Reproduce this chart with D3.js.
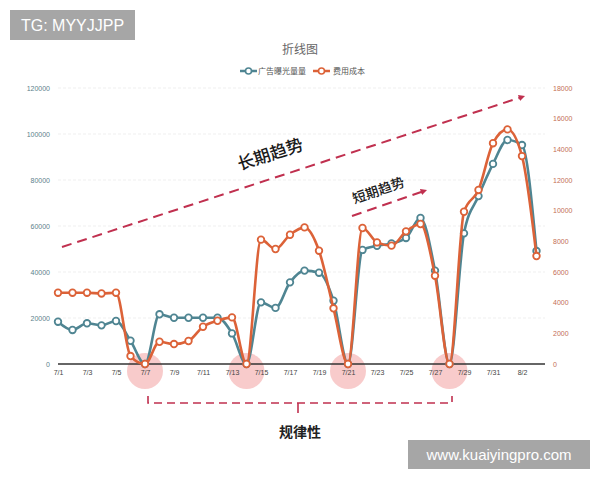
<!DOCTYPE html>
<html><head><meta charset="utf-8">
<script src="https://cdn.jsdelivr.net/npm/d3@7"></script>
<style>body{margin:0;background:#fff}svg{display:block}</style>
</head><body>
<svg id="c" width="600" height="480"></svg>
<script>
const dates = ["7/1","7/2","7/3","7/4","7/5","7/6","7/7","7/8","7/9","7/10","7/11","7/12","7/13","7/14","7/15","7/16","7/17","7/18","7/19","7/20","7/21","7/22","7/23","7/24","7/25","7/26","7/27","7/28","7/29","7/30","7/31","8/1","8/2","8/3"];
const exposure = [18400,14800,17700,16800,18700,10100,0, 21600,20100,20100,20100,20100,13300,0, 26800,24400,35500,40600,39700,27500,0, 49600,51400,52400,54800,63500,40600,0, 56800,73000,87000,97400,95200,49100];
const cost = [4650,4650,4650,4600,4650,520,0, 1450,1300,1500,2430,2820,3040,0, 8110,7500,8430,8910,7390,3630,0, 8870,7930,7720,8650,9130,5760,0, 9930,11350,14400,15300,13560,7040];
const leftTicks = [0,20000,40000,60000,80000,100000,120000];
const rightTicks = [0,2000,4000,6000,8000,10000,12000,14000,16000,18000];
const xTickLabels = ["7/1","7/3","7/5","7/7","7/9","7/11","7/13","7/15","7/17","7/19","7/21","7/23","7/25","7/27","7/29","7/31","8/2"];
const zeroDays = ["7/7","7/14","7/21","7/28"];
const seriesNames = ["广告曝光量量","费用成本"];

const blue = "#4f8592", orange = "#dc6238", crimson = "#c0304f";
const svg = d3.select("#c");
const x = d3.scalePoint().domain(dates).range([58, 536.5]);
const yL = d3.scaleLinear().domain([0,120000]).range([364, 88]);
const yR = d3.scaleLinear().domain([0,18000]).range([364, 88]);
const cjk = "'Noto Sans CJK SC','Noto Sans',sans-serif";
const lat = "'Liberation Sans',Arial,sans-serif";

// grid
svg.append("g").selectAll("line").data(leftTicks.slice(1)).join("line")
  .attr("x1",58).attr("x2",545).attr("y1",d=>yL(d)).attr("y2",d=>yL(d))
  .attr("stroke","#efefef").attr("stroke-dasharray","3,2").attr("stroke-width",1);

// left axis
const gl = svg.append("g").attr("transform","translate(52,0)")
  .call(d3.axisLeft(yL).tickValues(leftTicks).tickSize(0).tickPadding(2).tickFormat(d3.format("d")));
gl.select(".domain").remove();
gl.selectAll("text").attr("fill","#5c7f8b").attr("font-size",7).attr("font-family",lat);

// right axis
const gr = svg.append("g").attr("transform","translate(551,0)")
  .call(d3.axisRight(yR).tickValues(rightTicks).tickSize(0).tickPadding(2).tickFormat(d3.format("d")));
gr.select(".domain").remove();
gr.selectAll("text").attr("fill","#c46e55").attr("font-size",7).attr("font-family",lat);

// pink circles
svg.append("g").selectAll("circle").data(zeroDays).join("circle")
  .attr("cx",d=>x(d)).attr("cy",371).attr("r",18)
  .attr("fill","#f3a9a9").attr("opacity",0.6);

// x axis
const gx = svg.append("g").attr("transform","translate(0,364)")
  .call(d3.axisBottom(x).tickValues(xTickLabels).tickSize(0).tickPadding(6));
gx.select(".domain").attr("d","M58,0H545").attr("stroke","#333").attr("stroke-width",1.5);
gx.selectAll("text").attr("fill","#444").attr("font-size",7).attr("font-family",lat);

// lines
const lineL = d3.line().x((d,i)=>x(dates[i])).y(d=>yL(d)).curve(d3.curveMonotoneX);
const lineR = d3.line().x((d,i)=>x(dates[i])).y(d=>yR(d)).curve(d3.curveMonotoneX);
svg.append("path").attr("d",lineL(exposure)).attr("fill","none").attr("stroke",blue).attr("stroke-width",2.6);
svg.append("g").selectAll("circle").data(exposure).join("circle")
  .attr("cx",(d,i)=>x(dates[i])).attr("cy",d=>yL(d)).attr("r",3.3)
  .attr("fill","#fff").attr("stroke",blue).attr("stroke-width",1.8);
svg.append("path").attr("d",lineR(cost)).attr("fill","none").attr("stroke",orange).attr("stroke-width",2.6);
svg.append("g").selectAll("circle").data(cost).join("circle")
  .attr("cx",(d,i)=>x(dates[i])).attr("cy",d=>yR(d)).attr("r",3.3)
  .attr("fill","#fff").attr("stroke",orange).attr("stroke-width",1.8);

// title
svg.append("text").attr("x",300).attr("y",54).attr("text-anchor","middle")
  .attr("font-family",cjk).attr("font-size",12).attr("fill","#666").text("折线图");

// legend
const legend = [{c:blue,x:240,tx:258},{c:orange,x:313,tx:333}];
legend.forEach((l,i)=>{
  svg.append("line").attr("x1",l.x).attr("x2",l.x+17).attr("y1",71).attr("y2",71).attr("stroke",l.c).attr("stroke-width",2.5);
  svg.append("circle").attr("cx",l.x+8.5).attr("cy",71).attr("r",3).attr("fill","#fff").attr("stroke",l.c).attr("stroke-width",1.6);
  svg.append("text").attr("x",l.tx).attr("y",74).attr("font-family",cjk).attr("font-size",8).attr("fill","#555").text(seriesNames[i]);
});

// arrows
const defs = svg.append("defs");
defs.append("marker").attr("id","ah").attr("viewBox","0 0 10 10").attr("refX",5).attr("refY",5)
  .attr("markerWidth",3.2).attr("markerHeight",3.2).attr("orient","auto")
  .append("path").attr("d","M0,0L10,5L0,10z").attr("fill",crimson);
function arrow(x1,y1,x2,y2){
  svg.append("line").attr("x1",x1).attr("y1",y1).attr("x2",x2).attr("y2",y2)
    .attr("stroke",crimson).attr("stroke-width",2).attr("stroke-dasharray","10,6")
    .attr("marker-end","url(#ah)");
}
arrow(62,247,522,97);
arrow(352,216,424,191);
svg.append("text").attr("transform","translate(272,160) rotate(-18)").attr("text-anchor","middle")
  .attr("font-family",cjk).attr("font-size",17).attr("font-weight",500).attr("fill","#1a1a1a").text("长期趋势");
svg.append("text").attr("transform","translate(380,195) rotate(-19)").attr("text-anchor","middle")
  .attr("font-family",cjk).attr("font-size",13.5).attr("font-weight",500).attr("fill","#1a1a1a").text("短期趋势");

// bracket
svg.append("path").attr("d","M148,396V403H452V396").attr("fill","none")
  .attr("stroke",crimson).attr("stroke-width",1.6).attr("stroke-dasharray","8,5");
svg.append("line").attr("x1",298).attr("x2",298).attr("y1",403).attr("y2",413).attr("stroke",crimson).attr("stroke-width",1.6);
svg.append("text").attr("x",300).attr("y",437).attr("text-anchor","middle")
  .attr("font-family",cjk).attr("font-size",14).attr("font-weight","bold").attr("fill","#222").text("规律性");

// watermarks
svg.append("rect").attr("x",10).attr("y",10).attr("width",125).attr("height",30).attr("fill","#a6a6a6");
svg.append("text").attr("x",72.5).attr("y",31).attr("text-anchor","middle").attr("font-family",lat)
  .attr("font-size",16).attr("fill","#fff").text("TG: MYYJJPP");
svg.append("rect").attr("x",408).attr("y",440).attr("width",182).attr("height",29).attr("fill","#a6a6a6");
svg.append("text").attr("x",499).attr("y",460).attr("text-anchor","middle").attr("font-family",lat)
  .attr("font-size",15).attr("fill","#fff").text("www.kuaiyingpro.com");
</script>
</body></html>
